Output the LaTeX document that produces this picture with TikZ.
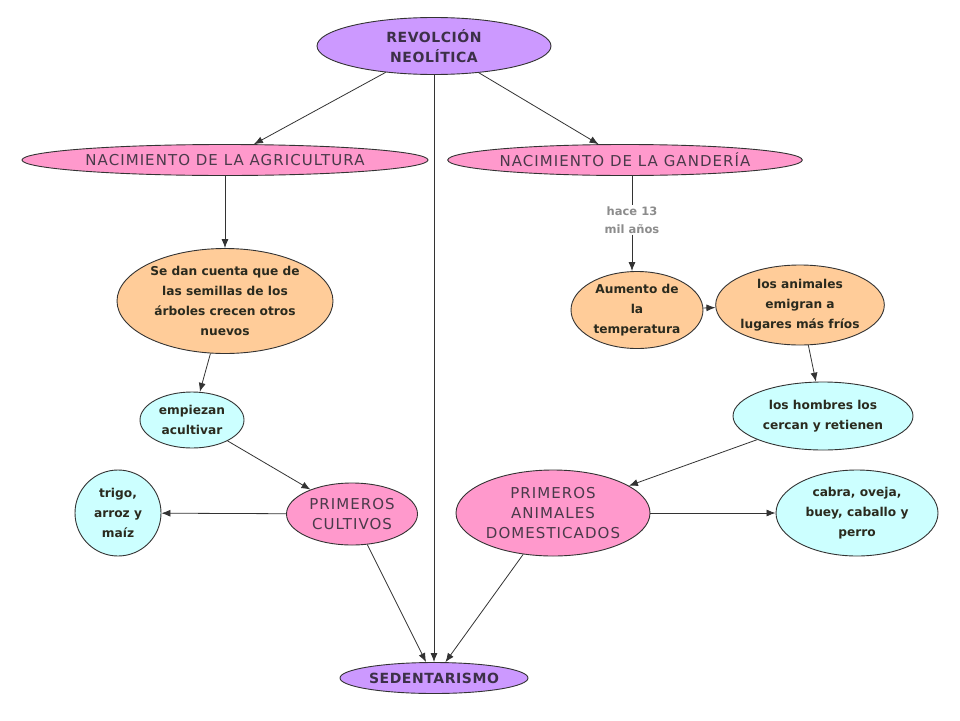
\documentclass[tikz,border=0pt]{standalone}
\usepackage{fontspec}
\setmainfont{DejaVu Sans}
\newfontfamily\capsfont[LetterSpace=7]{DejaVu Sans}
\newfontfamily\topfont[LetterSpace=4]{DejaVu Sans}
\usetikzlibrary{shapes.geometric,arrows.meta}
\definecolor{cpurple}{HTML}{CC99FF}
\definecolor{cpink}{HTML}{FF99CC}
\definecolor{cpeach}{HTML}{FFCC99}
\definecolor{ccyan}{HTML}{CCFFFF}
\definecolor{cline}{HTML}{333333}
\definecolor{ctxtcap}{HTML}{4A3A4A}
\definecolor{ctxttop}{HTML}{3C3048}
\definecolor{ctxt}{HTML}{2A2A1E}
\definecolor{cgray}{HTML}{8C8C8C}
\tikzset{
  bub/.style={ellipse, draw=cline, line width=0.9pt, inner sep=0pt, align=center},
  topbub/.style={bub, fill=cpurple, text=ctxttop, font=\topfont\fontsize{14}{20}\selectfont\bfseries},
  capbub/.style={bub, fill=cpink, text=ctxtcap, font=\capsfont\fontsize{15}{20}\selectfont},
  peachbub/.style={bub, fill=cpeach, text=ctxt, font=\fontsize{12.2}{20}\selectfont\bfseries},
  cyanbub/.style={bub, fill=ccyan, text=ctxt, font=\fontsize{12.2}{20}\selectfont\bfseries},
  conn/.style={draw=cline, line width=0.8pt},
  arr/.style={conn, -{Latex[length=9pt,width=7pt]}},
}
\begin{document}
\begin{tikzpicture}[x=1pt,y=-1pt]
\useasboundingbox[fill=white] (0,0) rectangle (960,720);
\node[topbub, minimum width=234, minimum height=57] (rev) at (434,46) {REVOLCIÓN\\NEOLÍTICA};
\node[capbub, minimum width=406, minimum height=31] (agri) at (225,160) {NACIMIENTO DE LA AGRICULTURA};
\node[capbub, minimum width=350, minimum height=31] (gan) at (625,160) {NACIMIENTO DE LA GANDERÍA};
\node[peachbub, minimum width=216, minimum height=105] (sedan) at (225,301) {Se dan cuenta que de\\las semillas de los\\árboles crecen otros\\nuevos};
\node[cyanbub, minimum width=104, minimum height=56] (emp) at (192,420) {empiezan\\acultivar};
\node[cyanbub, minimum width=86, minimum height=86] (trigo) at (118,513) {trigo,\\arroz y\\maíz};
\node[capbub, minimum width=131, minimum height=62] (pc) at (352,514) {PRIMEROS\\CULTIVOS};
\node[topbub, minimum width=188, minimum height=31] (sed) at (434,678) {SEDENTARISMO};
\node[font=\fontsize{11.5}{18}\selectfont\bfseries, text=cgray, align=center, inner sep=1pt] (lab) at (632,220) {hace 13\\mil años};
\node[peachbub, minimum width=132, minimum height=77] (aum) at (637,310) {Aumento de\\la\\temperatura};
\node[peachbub, minimum width=168, minimum height=80] (anim) at (800,305) {los animales\\emigran a\\lugares más fríos};
\node[cyanbub, minimum width=180, minimum height=68] (hom) at (823,416) {los hombres los\\cercan y retienen};
\node[capbub, minimum width=194, minimum height=86] (pad) at (553,513) {PRIMEROS\\ANIMALES\\DOMESTICADOS};
\node[cyanbub, minimum width=162, minimum height=86] (cab) at (857,513) {cabra, oveja,\\buey, caballo y\\perro};

\draw[arr] (rev) -- (agri);
\draw[arr] (rev) -- (gan);
\draw[arr] (rev) -- (sed);
\draw[arr] (agri) -- (sedan);
\draw[arr] (sedan) -- (emp);
\draw[arr] (emp) -- (pc);
\draw[arr] (pc) -- (trigo);
\draw[arr] (pc) -- (sed);
\draw[conn] (lab.north |- gan.south) -- (lab.north);
\draw[arr] (lab.south) -- (lab.south |- aum.north);
\draw[arr] (aum) -- (anim);
\draw[arr] (anim) -- (hom);
\draw[arr] (hom) -- (pad);
\draw[arr] (pad) -- (cab);
\draw[arr] (pad) -- (sed);
\end{tikzpicture}
\end{document}
